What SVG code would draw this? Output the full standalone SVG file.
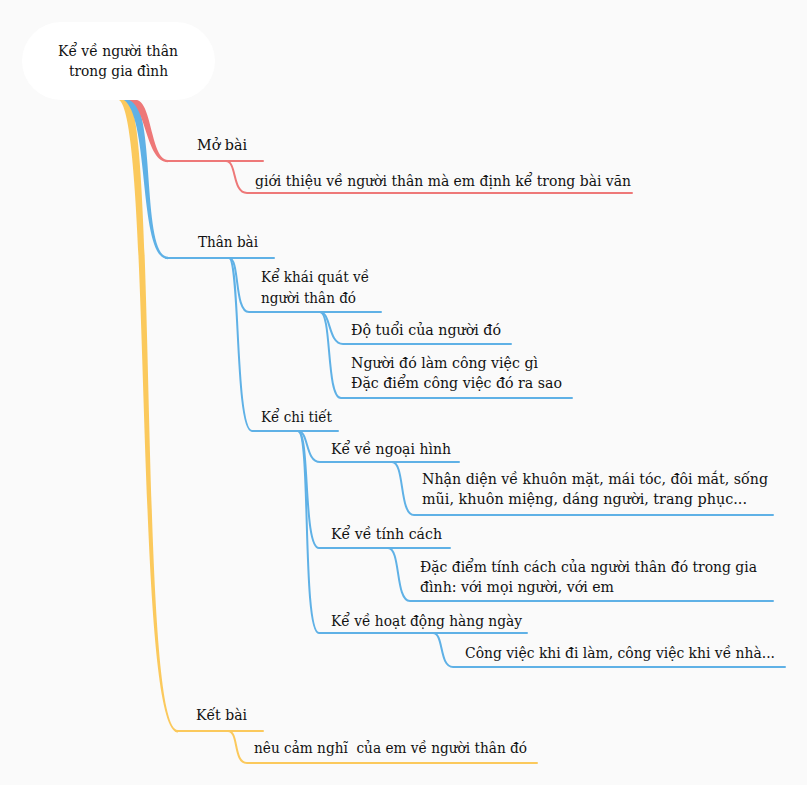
<svg xmlns="http://www.w3.org/2000/svg" width="807" height="785" viewBox="0 0 807 785">
<style>
text{font-family:'DejaVu Serif Condensed','DejaVu Serif',serif;font-stretch:condensed;font-size:14px;fill:#111;}
.r{stroke:#ee7878;}
.b{stroke:#5fb1e6;}
.y{stroke:#fbc95c;}
.c{fill:none;stroke-width:2;stroke-linecap:round;}
</style>
<rect width="807" height="785" fill="#fafafa"/>
<g id="connectors">
  <path d="M119 100 C152 120,134 732.5,178 732.5 L178 730 C139 730,157 118,128 100 Z" fill="#fbc95c"/>
  <path d="M124 100 C150 118,138 259.2,168 259.2 L168 256.8 C142 256.8,155 114,133 100 Z" fill="#5fb1e6"/>
  <path d="M129 100 C146 106,146 162.2,168 162.2 L168 160 C151 160,152 103,137 100 Z" fill="#ee7878"/>
  <path class="c r" d="M166 161 H263"/>
  <path class="c r" d="M226 161 C237 161,232 193,247 193 H632"/>
  <path class="c b" d="M166 258 H274"/>
  <path class="c b" d="M229 258 C240 258,234 312,249 312 H381"/>
  <path class="c b" d="M229 258 C240 258,235 431,252 431 H338"/>
  <path class="c b" d="M320 312 C331 312,328 344,343 344 H511"/>
  <path class="c b" d="M320 312 C332 312,326 398,341 398 H572"/>
  <path class="c b" d="M298 431 C309 431,305 462,320 462 H459"/>
  <path class="c b" d="M298 431 C310 431,303 548,319 548 H450"/>
  <path class="c b" d="M298 431 C311 431,302 633,319 633 H527"/>
  <path class="c b" d="M392 462 C405 462,399 515,414 515 H773"/>
  <path class="c b" d="M388 548 C401 548,395 601,410 601 H773"/>
  <path class="c b" d="M433 633 C444 633,439 667,453 667 H785"/>
  <path class="c y" d="M176 731 H263"/>
  <path class="c y" d="M228 731 C239 731,233 763,247 763 H537"/>
</g>
<g id="root">
  <rect x="22" y="22" width="193" height="78" rx="39" fill="#ffffff"/>
  <text x="58" y="56" textLength="120" lengthAdjust="spacingAndGlyphs">Kể về người thân</text>
  <text x="69" y="76" textLength="99" lengthAdjust="spacingAndGlyphs">trong gia đình</text>
</g>
<g id="mo-bai"><text x="197" y="150" textLength="50" lengthAdjust="spacingAndGlyphs">Mở bài</text></g>
<g id="mo-bai-1"><text x="255" y="186" textLength="376" lengthAdjust="spacingAndGlyphs">giới thiệu về người thân mà em định kể trong bài văn</text></g>
<g id="than-bai"><text x="198" y="247" textLength="60" lengthAdjust="spacingAndGlyphs">Thân bài</text></g>
<g id="khai-quat"><text x="261" y="282" textLength="108" lengthAdjust="spacingAndGlyphs">Kể khái quát về</text><text x="261" y="303" textLength="95" lengthAdjust="spacingAndGlyphs">người thân đó</text></g>
<g id="do-tuoi"><text x="351" y="335" textLength="150" lengthAdjust="spacingAndGlyphs">Độ tuổi của người đó</text></g>
<g id="cong-viec"><text x="351" y="368" textLength="187" lengthAdjust="spacingAndGlyphs">Người đó làm công việc gì</text><text x="351" y="388" textLength="211" lengthAdjust="spacingAndGlyphs">Đặc điểm công việc đó ra sao</text></g>
<g id="chi-tiet"><text x="261" y="422" textLength="71" lengthAdjust="spacingAndGlyphs">Kể chi tiết</text></g>
<g id="ngoai-hinh"><text x="331" y="454" textLength="120" lengthAdjust="spacingAndGlyphs">Kể về ngoại hình</text></g>
<g id="ngoai-hinh-1"><text x="422" y="484" textLength="346" lengthAdjust="spacingAndGlyphs">Nhận diện về khuôn mặt, mái tóc, đôi mắt, sống</text><text x="422" y="504" textLength="325" lengthAdjust="spacingAndGlyphs">mũi, khuôn miệng, dáng người, trang phục...</text></g>
<g id="tinh-cach"><text x="331" y="539" textLength="111" lengthAdjust="spacingAndGlyphs">Kể về tính cách</text></g>
<g id="tinh-cach-1"><text x="420" y="572" textLength="337" lengthAdjust="spacingAndGlyphs">Đặc điểm tính cách của người thân đó trong gia</text><text x="420" y="592" textLength="194" lengthAdjust="spacingAndGlyphs">đình: với mọi người, với em</text></g>
<g id="hoat-dong"><text x="331" y="626" textLength="191" lengthAdjust="spacingAndGlyphs">Kể về hoạt động hàng ngày</text></g>
<g id="hoat-dong-1"><text x="465" y="658" textLength="310" lengthAdjust="spacingAndGlyphs">Công việc khi đi làm, công việc khi về nhà...</text></g>
<g id="ket-bai"><text x="196" y="720" textLength="51" lengthAdjust="spacingAndGlyphs">Kết bài</text></g>
<g id="ket-bai-1"><text x="254" y="753" textLength="273" lengthAdjust="spacingAndGlyphs" xml:space="preserve">nêu cảm nghĩ  của em về người thân đó</text></g>
</svg>
